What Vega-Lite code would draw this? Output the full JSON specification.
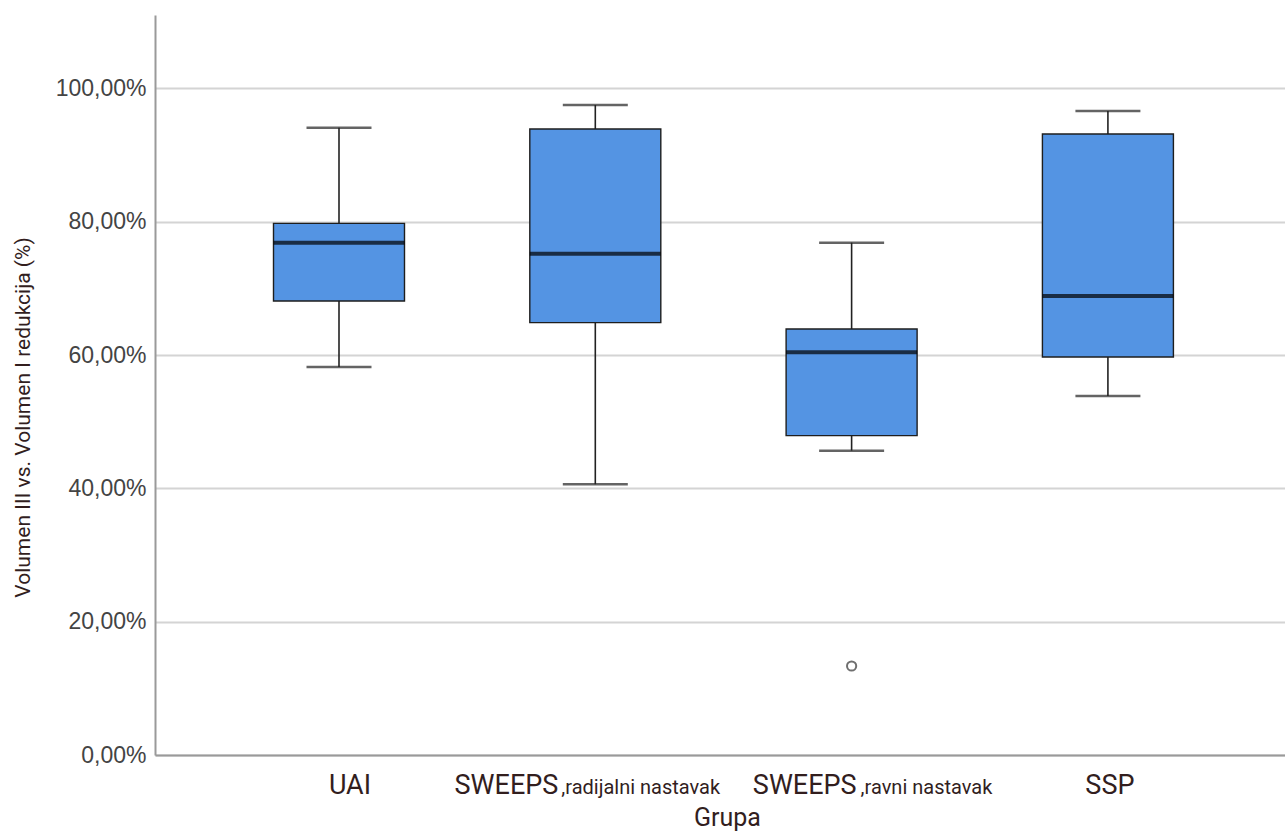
{
  "$schema": "https://vega.github.io/schema/vega-lite/v6.json",
  "width": 1130,
  "height": 740,
  "autosize": {"type": "none"},
  "padding": {"left": 155, "top": 15, "right": 0, "bottom": 80},
  "background": "white",
  "datasets": {
    "boxes": [
      {"group": "UAI", "lower": 58.2, "q1": 68.1, "median": 76.85, "q3": 79.75, "upper": 94.1},
      {"group": "SWEEPS,radijalni nastavak", "lower": 40.6, "q1": 64.85, "median": 75.2, "q3": 93.9, "upper": 97.5},
      {"group": "SWEEPS,ravni nastavak", "lower": 45.65, "q1": 47.9, "median": 60.4, "q3": 63.9, "upper": 76.85},
      {"group": "SSP", "lower": 53.85, "q1": 59.7, "median": 68.85, "q3": 93.15, "upper": 96.6}
    ],
    "outliers": [
      {"group": "SWEEPS,ravni nastavak", "value": 13.35}
    ]
  },
  "config": {
    "view": {"stroke": null},
    "axisY": {
      "domainColor": "#9a9a9a",
      "domainWidth": 2,
      "ticks": false,
      "tickSize": 0,
      "grid": true,
      "gridColor": "#d4d4d4",
      "gridWidth": 2,
      "labelFont": "Liberation Sans",
      "labelFontSize": 23,
      "labelColor": "#444444",
      "labelPadding": 9,
      "titleFont": "Roboto",
      "titleFontSize": 21,
      "titleColor": "#321e1e",
      "titleFontWeight": "normal",
      "titlePadding": 22,
      "titleY": 402,
      "titleBaseline": "bottom"
    }
  },
  "resolve": {"axis": {"x": "independent"}},
  "layer": [
    {
      "data": {"name": "boxes"},
      "mark": {"type": "rule", "color": "#222222", "strokeWidth": 1.6},
      "encoding": {
        "x": {
          "field": "group",
          "type": "nominal",
          "sort": null,
          "scale": {
            "domain": ["UAI", "SWEEPS,radijalni nastavak", "SWEEPS,ravni nastavak", "SSP"],
            "paddingInner": 0,
            "paddingOuter": 0.2044,
            "align": 0.533
          },
          "axis": {
            "orient": "bottom",
            "title": "Grupa",
            "domain": true,
            "domainColor": "#9a9a9a",
            "domainWidth": 2,
            "ticks": false,
            "tickSize": 0,
            "grid": false,
            "labelAngle": 0,
            "labelFont": "Roboto",
            "labelFontSize": 27,
            "labelColor": "#321e1e",
            "labelBaseline": "alphabetic",
            "labelPadding": 38,
            "labelOverlap": false,
            "labelLimit": 0,
            "labelExpr": "datum.value == 'UAI' ? 'UAI' : (datum.value == 'SSP' ? 'SSP' : 'SWEEPS')",
            "labelAlign": {"condition": {"test": "datum.value == 'UAI' || datum.value == 'SSP'", "value": "center"}, "value": "right"},
            "labelOffset": {
              "condition": [
                {"test": "datum.value == 'UAI'", "value": 11},
                {"test": "datum.value == 'SSP'", "value": 2},
                {"test": "datum.value == 'SWEEPS,radijalni nastavak'", "value": -37}
              ],
              "value": 5
            },
            "titleFont": "Roboto",
            "titleFontSize": 25,
            "titleColor": "#321e1e",
            "titleFontWeight": "normal",
            "titlePadding": 7,
            "titleX": 572
          }
        },
        "y": {
          "field": "lower",
          "type": "quantitative",
          "title": "Volumen III vs. Volumen I redukcija (%)",
          "scale": {"domain": [0, 111], "nice": false, "zero": true},
          "axis": {
            "values": [0, 20, 40, 60, 80, 100],
            "labelExpr": "replace(format(datum.value, '.2f'), '.', ',') + '%'"
          }
        },
        "y2": {"field": "upper"}
      }
    },
    {
      "data": {"name": "boxes"},
      "mark": {"type": "tick", "color": "#222222", "thickness": 2.5, "size": 65},
      "encoding": {
        "x": {"field": "group", "type": "nominal", "sort": null, "axis": null},
        "y": {"field": "lower", "type": "quantitative", "title": "Volumen III vs. Volumen I redukcija (%)"}
      }
    },
    {
      "data": {"name": "boxes"},
      "mark": {"type": "tick", "color": "#222222", "thickness": 2.5, "size": 65},
      "encoding": {
        "x": {"field": "group", "type": "nominal", "sort": null, "axis": null},
        "y": {"field": "upper", "type": "quantitative", "title": "Volumen III vs. Volumen I redukcija (%)"}
      }
    },
    {
      "data": {"name": "boxes"},
      "mark": {"type": "bar", "fill": "#5494e3", "stroke": "#1e1e1e", "strokeWidth": 1.4, "size": 131},
      "encoding": {
        "x": {"field": "group", "type": "nominal", "sort": null, "axis": null},
        "y": {"field": "q1", "type": "quantitative", "title": "Volumen III vs. Volumen I redukcija (%)"},
        "y2": {"field": "q3"}
      }
    },
    {
      "data": {"name": "boxes"},
      "mark": {"type": "tick", "color": "#000000", "thickness": 4, "size": 131},
      "encoding": {
        "x": {
          "field": "group",
          "type": "nominal",
          "sort": null,
          "axis": {
            "orient": "bottom",
            "title": null,
            "domain": false,
            "ticks": false,
            "tickSize": 0,
            "grid": false,
            "labelAngle": 0,
            "labelFont": "Roboto",
            "labelFontSize": 20,
            "labelColor": "#321e1e",
            "labelBaseline": "alphabetic",
            "labelPadding": 38,
            "labelOverlap": false,
            "labelLimit": 0,
            "labelAlign": "left",
            "labelExpr": "datum.value == 'SWEEPS,radijalni nastavak' ? ',radijalni nastavak' : (datum.value == 'SWEEPS,ravni nastavak' ? ',ravni nastavak' : '')",
            "labelOffset": {"condition": {"test": "datum.value == 'SWEEPS,radijalni nastavak'", "value": -34}, "value": 9}
          }
        },
        "y": {"field": "median", "type": "quantitative", "title": "Volumen III vs. Volumen I redukcija (%)"}
      }
    },
    {
      "data": {"name": "outliers"},
      "mark": {"type": "point", "shape": "circle", "filled": false, "size": 85, "stroke": "#333333", "strokeWidth": 2},
      "encoding": {
        "x": {"field": "group", "type": "nominal", "sort": null, "axis": null},
        "y": {"field": "value", "type": "quantitative", "title": "Volumen III vs. Volumen I redukcija (%)"}
      }
    }
  ]
}
